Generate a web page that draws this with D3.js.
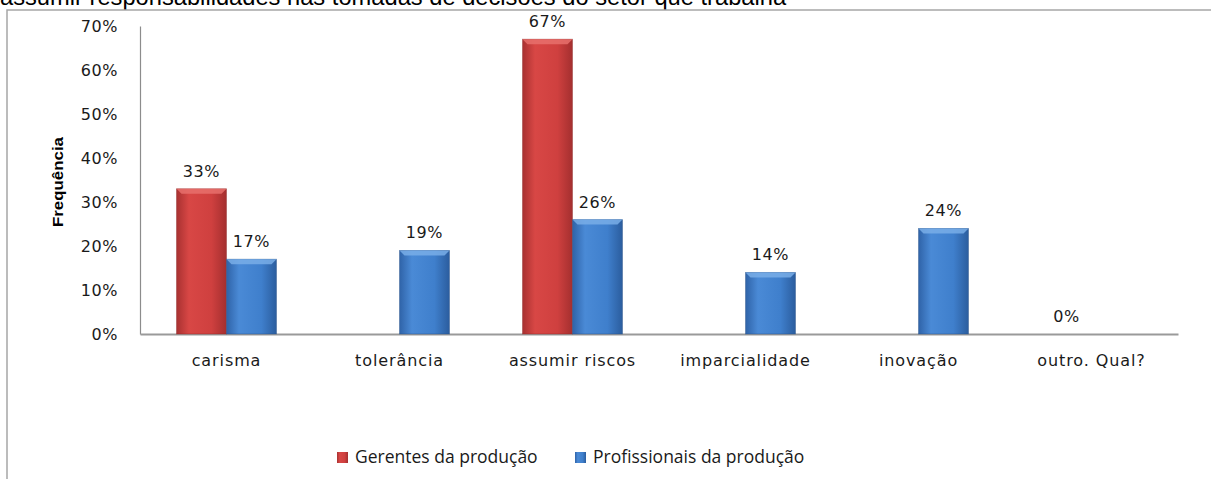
<!DOCTYPE html>
<html>
<head>
<meta charset="utf-8">
<style>
  body { margin: 0; background: #fff; }
  svg { display: block; }
</style>
</head>
<body>
<div id="chart"></div>
<script src="https://d3js.org/d3.v7.min.js"></script>
<script>
  // data
  const categories = ["carisma", "tolerância", "assumir riscos", "imparcialidade", "inovação", "outro. Qual?"];
  const seriesNames = ["Gerentes da produção", "Profissionais da produção"];
  const gerentes = [33, null, 67, null, null, 0];
  const profissionais = [17, 19, 26, 14, 24, null];
  const yTicks = [0, 10, 20, 30, 40, 50, 60, 70];
  const headingText = "assumir responsabilidades nas tomadas de decisões do setor que trabalha";

  const width = 1211, height = 479;
  const plot = { left: 140, right: 1178, top: 26, bottom: 334 };
  const labelFont = "DejaVu Sans, Verdana, sans-serif";

  const svg = d3.select("#chart")
    .append("svg")
    .attr("width", width)
    .attr("height", height);

  const defs = svg.append("defs");
  const grads = [
    { id: "gRed", stops: ["#a83131", "#d84745", "#cf403f", "#a42f2f"] },
    { id: "gBlue", stops: ["#2f63a8", "#4a8ad6", "#3f7fcc", "#2b5d9e"] }
  ];
  grads.forEach(g => {
    const lg = defs.append("linearGradient").attr("id", g.id)
      .attr("x1", 0).attr("x2", 1).attr("y1", 0).attr("y2", 0);
    [0, 0.25, 0.7, 1].forEach((o, i) => lg.append("stop").attr("offset", o).attr("stop-color", g.stops[i]));
  });

  // heading above the chart, cut off at the top of the picture
  svg.append("text")
    .attr("x", 0)
    .attr("y", 5)
    .attr("font-family", "Liberation Sans, Arial, sans-serif")
    .attr("font-size", 23.7)
    .attr("fill", "#000")
    .text(headingText);

  // chart frame
  svg.append("rect")
    .attr("x", 7).attr("y", 10)
    .attr("width", 1250).attr("height", 520)
    .attr("fill", "none")
    .attr("stroke", "#a6a6a6")
    .attr("stroke-width", 1.5);

  const x = d3.scaleBand()
    .domain(categories)
    .range([plot.left, plot.right]);

  const xSub = d3.scaleBand()
    .domain(seriesNames)
    .range([0, x.bandwidth()])
    .paddingOuter(0.73);

  const y = d3.scaleLinear()
    .domain([0, 70])
    .range([plot.bottom, plot.top]);

  // y axis
  const yAxis = d3.axisLeft(y)
    .tickValues(yTicks)
    .tickFormat(d => d + "%")
    .tickSize(0)
    .tickPadding(22);

  const gy = svg.append("g")
    .attr("transform", `translate(${plot.left},0)`)
    .call(yAxis);
  gy.select(".domain").attr("stroke", "#8c8c8c").attr("stroke-width", 1.2);
  gy.selectAll("text")
    .attr("font-family", labelFont)
    .attr("font-size", 16)
    .attr("letter-spacing", 0.6)
    .attr("fill", "#1a1a1a");

  // x axis
  const xAxis = d3.axisBottom(x).tickSize(0).tickPadding(21);
  const gx = svg.append("g")
    .attr("transform", `translate(0,${plot.bottom})`)
    .call(xAxis);
  gx.select(".domain").attr("stroke", "#9a9a9a").attr("stroke-width", 2);
  gx.selectAll("text")
    .attr("font-family", labelFont)
    .attr("font-size", 16)
    .attr("letter-spacing", 0.9)
    .attr("fill", "#1a1a1a");

  svg.append("text")
    .attr("transform", `translate(63,182) rotate(-90)`)
    .attr("text-anchor", "middle")
    .attr("font-family", "Liberation Sans Narrow, Arial Narrow, Liberation Sans, sans-serif")
    .attr("font-weight", "bold")
    .attr("font-size", 15)
    .attr("textLength", 90)
    .attr("lengthAdjust", "spacingAndGlyphs")
    .attr("fill", "#000")
    .text("Frequência");

  const series = [
    { name: seriesNames[0], values: gerentes, fill: "url(#gRed)", top: "#e8706c", edge: "#8e2626" },
    { name: seriesNames[1], values: profissionais, fill: "url(#gBlue)", top: "#79aee8", edge: "#234e86" }
  ];

  const bars = svg.append("g");
  series.forEach(s => {
    const pts = categories.map((c, i) => ({ cat: c, v: s.values[i] })).filter(d => d.v !== null);
    const g = bars.append("g");
    const w = xSub.bandwidth();
    const bx = d => x(d.cat) + xSub(s.name);
    g.selectAll("rect.bar")
      .data(pts.filter(d => d.v > 0))
      .join("rect")
      .attr("class", "bar")
      .attr("x", bx)
      .attr("y", d => y(d.v))
      .attr("width", w)
      .attr("height", d => y(0) - y(d.v))
      .attr("fill", s.fill)
      .attr("stroke", s.edge)
      .attr("stroke-opacity", 0.5)
      .attr("stroke-width", 0.8);
    // bevel highlight at the top
    g.selectAll("path.bevel")
      .data(pts.filter(d => d.v > 0))
      .join("path")
      .attr("class", "bevel")
      .attr("d", d => {
        const x0 = bx(d), y0 = y(d.v);
        return `M${x0},${y0}L${x0 + w},${y0}L${x0 + w - 5},${y0 + 5}L${x0 + 5},${y0 + 5}Z`;
      })
      .attr("fill", s.top)
      .attr("opacity", 0.85);
    g.selectAll("text.val")
      .data(pts)
      .join("text")
      .attr("class", "val")
      .attr("x", d => bx(d) + w / 2)
      .attr("y", d => y(d.v) - 12)
      .attr("text-anchor", "middle")
      .attr("font-family", labelFont)
      .attr("font-size", 16)
      .attr("letter-spacing", 0.6)
      .attr("fill", "#1a1a1a")
      .text(d => d.v + "%");
  });

  // legend
  const legendItems = [
    { name: seriesNames[0], fill: "url(#gRed)", x: 337 },
    { name: seriesNames[1], fill: "url(#gBlue)", x: 575 }
  ];
  const lg = svg.append("g");
  legendItems.forEach(d => {
    lg.append("rect")
      .attr("x", d.x).attr("y", 452)
      .attr("width", 11).attr("height", 11)
      .attr("fill", d.fill);
    lg.append("text")
      .attr("x", d.x + 18).attr("y", 463)
      .attr("font-family", "Open Sans, sans-serif")
      .attr("font-size", 17.5)
      .attr("fill", "#1a1a1a")
      .text(d.name);
  });
</script>
</body>
</html>
